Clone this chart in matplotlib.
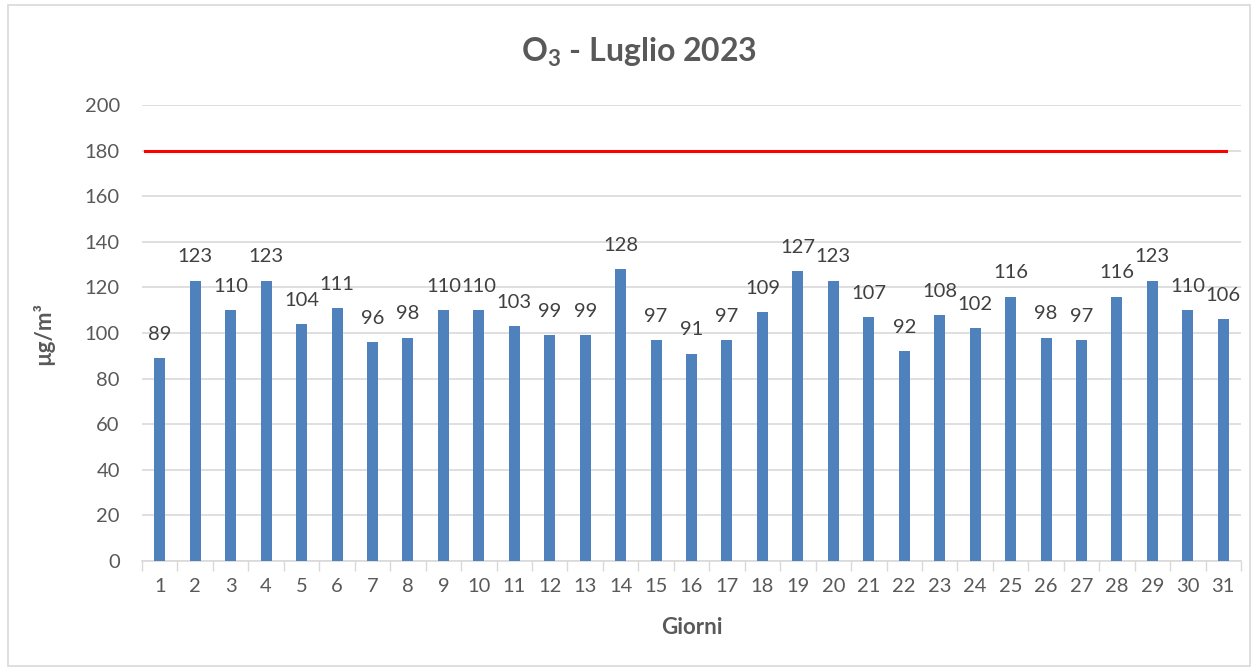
import matplotlib
matplotlib.use("Agg")
import matplotlib.pyplot as plt
from matplotlib.patches import Rectangle

# dati O3 - luglio 2023
giorni = list(range(1, 32))
valori = [89, 123, 110, 123, 104, 111, 96, 98, 110, 110, 103, 99, 99, 128, 97,
          91, 97, 109, 127, 123, 107, 92, 108, 102, 116, 98, 97, 116, 123, 110, 106]
soglia = 180
y_ticks = [0, 20, 40, 60, 80, 100, 120, 140, 160, 180, 200]

plt.rcParams["font.family"] = ["Lato", "DejaVu Sans"]
plt.rcParams["mathtext.fontset"] = "custom"
plt.rcParams["mathtext.rm"] = "Lato"
plt.rcParams["mathtext.bf"] = "Lato:bold"
GRIGIO = "#595959"

fig = plt.figure(figsize=(12.58, 6.71), dpi=100)
ax = fig.add_axes([0.1129, 0.1639, 0.8736, 0.6796])

ax.bar(giorni, valori, width=0.31, color="#4f81bd", zorder=3)
ax.axhline(soglia, xmin=0.003, xmax=0.986, color="#ff0000", lw=2.2, zorder=4)

for g, v in zip(giorni, valori):
    ax.annotate(str(v), (g, v), xytext=(0, 17), textcoords="offset points",
                ha="center", va="center", fontsize=14.5, color="#404040")

ax.set_xlim(0.5, 31.5)
ax.set_ylim(0, 200)
ax.set_yticks(y_ticks)
ax.set_xticks(giorni)
ax.set_xticks([g + 0.5 for g in [0] + giorni], minor=True)
ax.tick_params(axis="x", which="major", length=0, pad=12, labelsize=14.5, labelcolor=GRIGIO)
ax.tick_params(axis="x", which="minor", length=7, color="#d9d9d9", width=1)
ax.tick_params(axis="y", length=0, pad=16, labelsize=14.5, labelcolor=GRIGIO)
ax.grid(axis="y", color="#d9d9d9", lw=1.2, zorder=0)

for s in ["top", "right", "left"]:
    ax.spines[s].set_visible(False)
ax.spines["bottom"].set_color("#d9d9d9")
ax.spines["bottom"].set_linewidth(1.2)

ax.set_xlabel("Giorni", fontsize=16, fontweight="bold", color=GRIGIO, labelpad=16)
ax.set_ylabel("µg/m³", fontsize=16, fontweight="bold", color=GRIGIO, labelpad=22)

fig.text(0.508, 0.922, r"$\mathbf{O_3}$ - Luglio 2023", ha="center", va="center",
         fontsize=23, fontweight="bold", color=GRIGIO)

fig.patches.append(Rectangle((0.006, 0.008), 0.988, 0.985, transform=fig.transFigure,
                             fill=False, edgecolor="#d9d9d9", lw=1.2))

fig.savefig("out.png", dpi=100)
